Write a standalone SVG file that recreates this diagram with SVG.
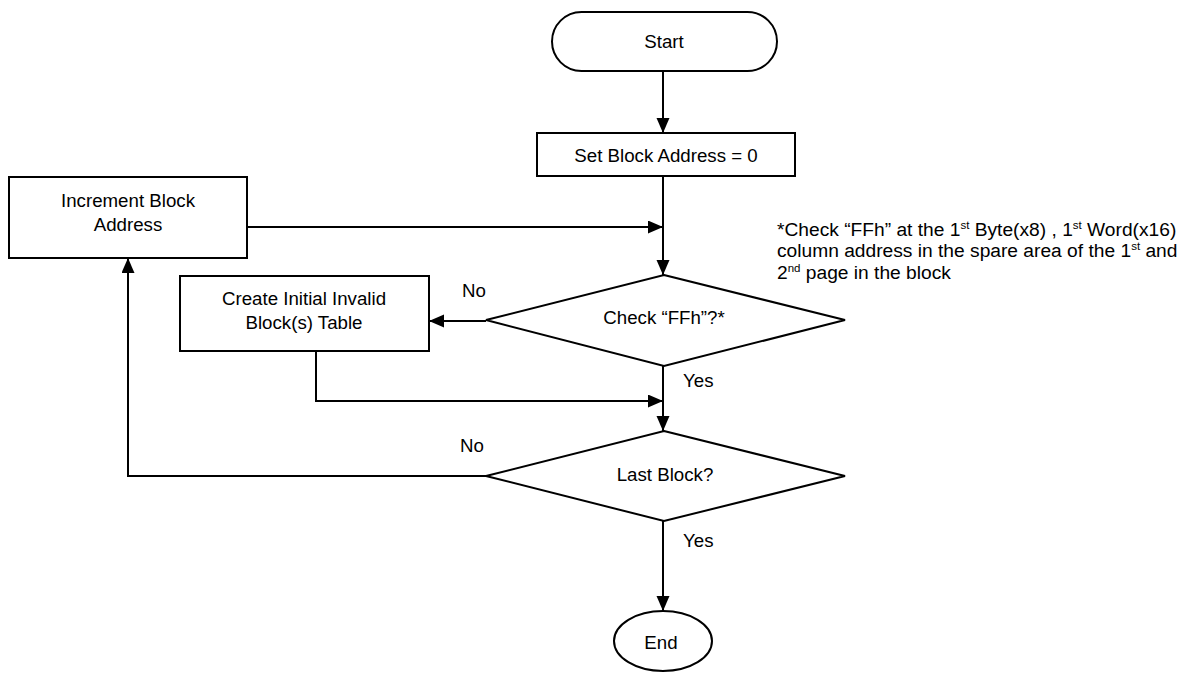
<svg xmlns="http://www.w3.org/2000/svg" width="1184" height="674" viewBox="0 0 1184 674">
<style>
  .shape { fill: #ffffff; stroke: #000000; stroke-width: 2; }
  .line { fill: none; stroke: #000000; stroke-width: 2; }
  .t { font-family: "Liberation Sans", Arial, sans-serif; font-size: 18.7px; fill: #000000; }
  .c { text-anchor: middle; }
  .n { font-size: 19.2px; }
  .sup { font-size: 11.5px; }
</style>
<defs>
  <marker id="arrow" markerUnits="userSpaceOnUse" markerWidth="16" markerHeight="14" refX="15" refY="6.5" orient="auto">
    <path d="M0,0 L15,6.5 L0,13 Z" fill="#000000"/>
  </marker>
</defs>
<rect width="1184" height="674" fill="#ffffff"/>

<g id="connectors">
  <line class="line" x1="663" y1="71" x2="663" y2="133" marker-end="url(#arrow)"/>
  <line class="line" x1="663" y1="176" x2="663" y2="275" marker-end="url(#arrow)"/>
  <line class="line" x1="247" y1="227" x2="663" y2="227" marker-end="url(#arrow)"/>
  <line class="line" x1="486" y1="321" x2="429" y2="321" marker-end="url(#arrow)"/>
  <polyline class="line" points="316,351 316,401 663,401" marker-end="url(#arrow)"/>
  <line class="line" x1="663" y1="366" x2="663" y2="431" marker-end="url(#arrow)"/>
  <polyline class="line" points="486,476 128,476 128,258" marker-end="url(#arrow)"/>
  <line class="line" x1="663" y1="521" x2="663" y2="611" marker-end="url(#arrow)"/>
</g>

<g id="start">
  <rect class="shape" x="552" y="12" width="225" height="59" rx="29.5" ry="29.5"/>
  <text class="t c" x="664" y="48">Start</text>
</g>

<g id="set-block">
  <rect class="shape" x="537" y="133" width="258" height="43"/>
  <text class="t c" x="666" y="162">Set Block Address = 0</text>
</g>

<g id="increment">
  <rect class="shape" x="9" y="177" width="238" height="81"/>
  <text class="t c" x="128" y="207">Increment Block</text>
  <text class="t c" x="128" y="231">Address</text>
</g>

<g id="check-ffh">
  <polygon class="shape" points="664,275 845,320 664,366 486,320"/>
  <text class="t c" x="664" y="324">Check “FFh”?*</text>
</g>

<g id="create-table">
  <rect class="shape" x="180" y="276" width="249" height="75"/>
  <text class="t c" x="304" y="305">Create Initial Invalid</text>
  <text class="t c" x="304" y="329">Block(s) Table</text>
</g>

<g id="last-block">
  <polygon class="shape" points="664,431 845,476 664,521 486,476"/>
  <text class="t c" x="665" y="481">Last Block?</text>
</g>

<g id="end">
  <ellipse class="shape" cx="663" cy="641" rx="49" ry="30"/>
  <text class="t c" x="661" y="649">End</text>
</g>

<g id="labels">
  <text class="t" x="462" y="297">No</text>
  <text class="t" x="683" y="387">Yes</text>
  <text class="t" x="460" y="452">No</text>
  <text class="t" x="683" y="547">Yes</text>
</g>

<g id="note">
  <text class="t n" x="777" y="236">*Check “FFh” at the 1<tspan class="sup" dy="-7">st</tspan><tspan dy="7"> Byte(x8) , 1</tspan><tspan class="sup" dy="-7">st</tspan><tspan dy="7"> Word(x16)</tspan></text>
  <text class="t n" x="777" y="257">column address in the spare area of the 1<tspan class="sup" dy="-7">st</tspan><tspan dy="7"> and</tspan></text>
  <text class="t n" x="777" y="279">2<tspan class="sup" dy="-7">nd</tspan><tspan dy="7"> page in the block</tspan></text>
</g>
</svg>
